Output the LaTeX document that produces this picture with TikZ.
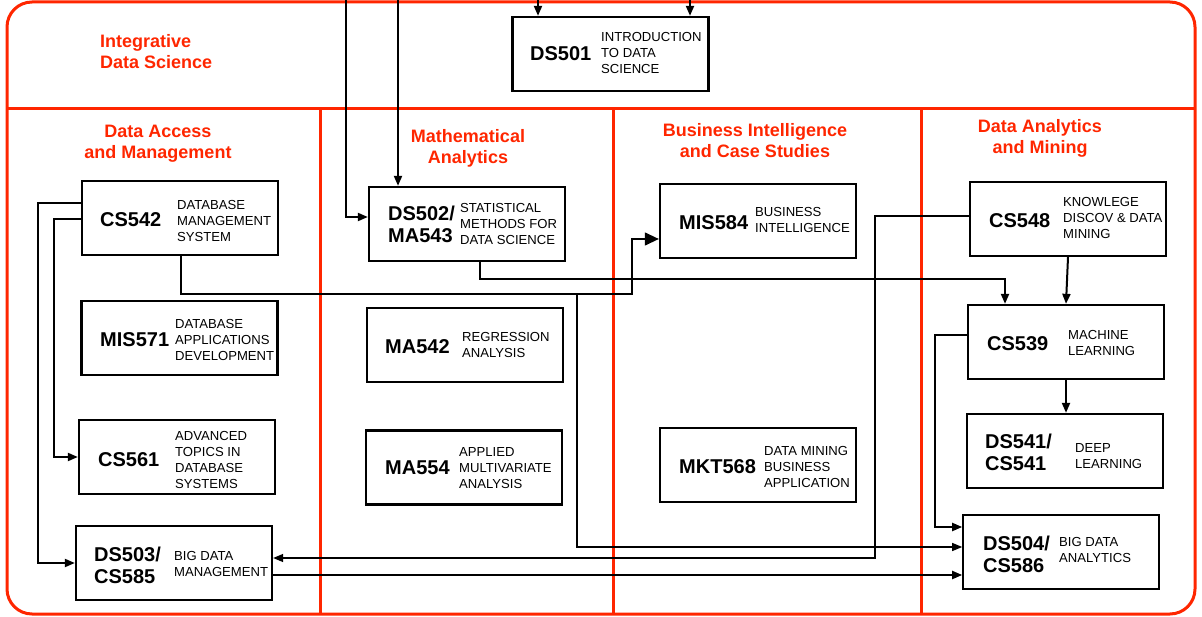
\documentclass[tikz,border=0pt]{standalone}
\usepackage{fontspec}
\setmainfont{Liberation Sans}
\usetikzlibrary{arrows.meta}
\definecolor{frame}{RGB}{255,38,0}
\begin{document}
\begin{tikzpicture}[x=1pt,y=-1pt,
  course/.style={draw, line width=2.3pt, minimum width=196pt, minimum height=74pt, inner sep=0pt},
  code/.style={anchor=west, inner sep=0pt, align=left, font=\fontsize{20}{22}\selectfont\bfseries},
  desc/.style={anchor=west, inner sep=0pt, align=left, font=\fontsize{13.1}{15.8}\selectfont},
  title/.style={inner sep=0pt, align=center, text=frame, font=\fontsize{18}{21}\selectfont\bfseries},
  conn/.style={line width=2pt, -{Triangle[length=10pt,width=8pt]}},
  thinconn/.style={line width=1.3pt, -{Triangle[length=10pt,width=8pt]}},
  redline/.style={draw=frame, line width=3pt}]
\useasboundingbox (0,0) rectangle (1202,617);
% frame
\draw[redline, rounded corners=25pt] (7,2) rectangle (1195,614);
\draw[redline] (7,109) -- (1195,109);
\draw[redline] (320,109) -- (320,614);
\draw[redline] (613,109) -- (613,614);
\draw[redline] (921,109) -- (921,614);
% titles
\node[title, anchor=west, align=left] (tIDS) at (100,52) {Integrative\\Data Science};
\node[title] (tDAM) at (158,143.5) {Data Access\\and Management};
\node[title] (tMA) at (468,148.5) {Mathematical\\Analytics};
\node[title] (tBI) at (755,140.5) {Business Intelligence\\and Case Studies};
\node[title] (tDAMi) at (1040,138) {Data Analytics\\and Mining};
% boxes
\node[course] (ds501) at (610.5,54) {};
\node[code] (ds501c) at (530,54) {DS501};
\node[desc] (ds501d) at (601,53) {INTRODUCTION\\TO DATA\\SCIENCE};

\node[course] (cs542) at (180,218) {};
\node[code] (cs542c) at (100,220) {CS542};
\node[desc] (cs542d) at (177,221) {DATABASE\\MANAGEMENT\\SYSTEM};

\node[course] (mis571) at (179.5,338) {};
\node[code] (mis571c) at (100,340) {MIS571};
\node[desc] (mis571d) at (175,340) {DATABASE\\APPLICATIONS\\DEVELOPMENT};

\node[course] (cs561) at (177,457) {};
\node[code] (cs561c) at (98,460) {CS561};
\node[desc] (cs561d) at (175,460) {ADVANCED\\TOPICS IN\\DATABASE\\SYSTEMS};

\node[course] (ds503) at (174,563) {};
\node[code] (ds503c) at (94,565) {DS503/\\CS585};
\node[desc] (ds503d) at (174,564) {BIG DATA\\MANAGEMENT};

\node[course] (ds502) at (467,224) {};
\node[code] (ds502c) at (388,224) {DS502/\\MA543};
\node[desc] (ds502d) at (460,224) {STATISTICAL\\METHODS FOR\\DATA SCIENCE};

\node[course] (ma542) at (465,345) {};
\node[code] (ma542c) at (385,347) {MA542};
\node[desc] (ma542d) at (462,345) {REGRESSION\\ANALYSIS};

\node[course] (ma554) at (464,467.5) {};
\node[code] (ma554c) at (385,468) {MA554};
\node[desc] (ma554d) at (459,468) {APPLIED\\MULTIVARIATE\\ANALYSIS};

\node[course] (mis584) at (758,221) {};
\node[code] (mis584c) at (679,223) {MIS584};
\node[desc] (mis584d) at (755,220) {BUSINESS\\INTELLIGENCE};

\node[course] (mkt568) at (758,465) {};
\node[code] (mkt568c) at (679,467) {MKT568};
\node[desc] (mkt568d) at (764,467) {DATA MINING\\BUSINESS\\APPLICATION};

\node[course] (cs548) at (1068,219) {};
\node[code] (cs548c) at (989,221) {CS548};
\node[desc] (cs548d) at (1063,218) {KNOWLEGE\\DISCOV \& DATA\\MINING};

\node[course] (cs539) at (1066,342) {};
\node[code] (cs539c) at (987,344) {CS539};
\node[desc] (cs539d) at (1068,343) {MACHINE\\LEARNING};

\node[course] (ds541) at (1065,451) {};
\node[code] (ds541c) at (985,452) {DS541/\\CS541};
\node[desc] (ds541d) at (1075,456) {DEEP\\LEARNING};

\node[course, line width=1.6pt] (ds504) at (1061,552) {};
\node[code] (ds504c) at (983,554) {DS504/\\CS586};
\node[desc] (ds504d) at (1059,550) {BIG DATA\\ANALYTICS};

% free ends at the top
\coordinate (t1) at (346,0);
\coordinate (t2) at (398,0);
\coordinate (t3) at (538,0);
\coordinate (t4) at (690,0);
\coordinate (j1) at (577,294);

% connectors
\draw[conn] (t1) |- ([yshift=7pt]ds502.west);
\draw[conn] (t2) -- (t2 |- ds502.north);
\draw[conn] (t3) -- (t3 |- ds501.north);
\draw[conn] (t4) -- (t4 |- ds501.north);
\draw[conn] ([yshift=15pt]cs542.west) -- (38,203) |- (ds503.west);
\draw[conn] ([yshift=-1pt]cs542.west) -- (54,219) |- (cs561.west);
\draw[line width=1.3pt, -{Triangle[length=14pt,width=13pt]}] ([xshift=1pt]cs542.south) |- (632,294) |- ([yshift=-18pt]mis584.west);
\draw[thinconn] (j1) |- ([yshift=5pt]ds504.west);
\draw[conn] ([xshift=13pt]ds502.south) -- ++(0,17) -| ([xshift=-61pt]cs539.north);
\draw[conn] (cs548.south) -- (cs539.north);
\draw[thinconn] ([yshift=3pt]cs548.west) -- (875,216) |- ([yshift=5pt]ds503.east);
\draw[conn] ([yshift=-12pt]ds503.east) -- ([yshift=-12pt]ds503.east -| ds504.west);
\draw[conn] ([yshift=7pt]cs539.west) -- (935,335) |- ([yshift=25pt]ds504.west);
\draw[conn] (cs539.south) -- (cs539.south |- ds541.north);
\end{tikzpicture}
\end{document}
